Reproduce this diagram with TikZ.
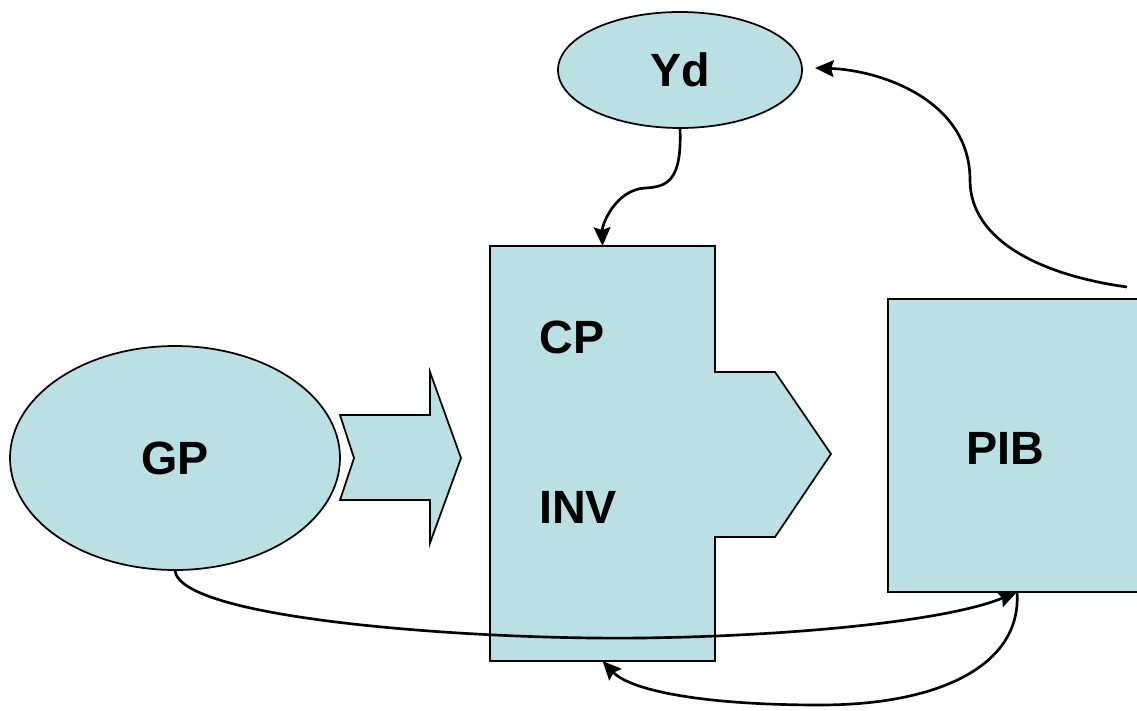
\documentclass[tikz,border=0pt]{standalone}
\usepackage{fontspec}
\setmainfont{Liberation Sans}
\usetikzlibrary{shapes.geometric,arrows.meta,calc}
\definecolor{shapefill}{RGB}{187,224,227}
\tikzset{
  shapeline/.style={draw=black, line width=1.3pt, fill=shapefill, line join=miter},
  oval/.style={shapeline, ellipse, inner sep=0pt, outer sep=0pt},
  boxnode/.style={shapeline, rectangle, inner sep=0pt, outer sep=0pt},
  lbl/.style={font=\fontsize{35}{42}\selectfont\bfseries, inner sep=0pt},
  link/.style={draw=black, line width=2pt, -{Stealth[length=14pt,width=12.5pt,inset=2pt]}},
}
\begin{document}
\begin{tikzpicture}[x=0.75pt, y=-0.75pt]
\useasboundingbox (0,0) rectangle (1137,710);
\clip (0,0) rectangle (1137,710);

% ovals
\node[oval, minimum width=183pt, minimum height=87pt] (yd) at (680,70) {};
\node[lbl] (ydl) at (680,70) {Yd};
\node[oval, minimum width=247.5pt, minimum height=168pt] (gp) at (175,458) {};
\node[lbl] (gpl) at (175,458) {GP};

% chevron arrow between GP and the central block
\draw[shapeline] (340,415) -- (430,415) -- (430,372) -- (461,458) -- (430,543)
  -- (430,500) -- (340,500) -- (354,458) -- cycle;

% central block with pointed extension
\node[rectangle, inner sep=0pt, outer sep=0pt, minimum width=168.75pt,
      minimum height=311.25pt] (blk) at (602.5,453.5) {};
\draw[shapeline] (blk.north west) -- (blk.north east) -- (715,372) -- (775,372)
  -- (831,454) -- (775,537) -- (715,537) -- (blk.south east) -- (blk.south west) -- cycle;
\node[lbl] (cp) at (572,337) {CP};
\node[lbl] (inv) at (578,507) {INV};

% PIB box (runs past the right edge)
\node[boxnode, minimum width=193.5pt, minimum height=219.75pt] (pib) at (1017,445.5) {};
\node[lbl] (pibl) at (1005,448) {PIB};

% connectors
\coordinate (feed) at (1127,287);
\draw[link] (yd.south) .. controls (682,180) and (668,187) .. (645,188)
  .. controls (615,190) and (602,225) .. (blk.north);
\draw[link] (feed) .. controls (1040,275) and (970,240) .. (970,180)
  .. controls (970,100) and (880,70) .. ($(yd.east)+(13,-2)$);
\draw[link] (gp.south) .. controls (178,620) and (480,640) .. (640,638)
  .. controls (800,636) and (950,620) .. (pib.south);
\draw[link] (pib.south) .. controls (1022,665) and (940,705) .. (820,705)
  .. controls (700,705) and (630,690) .. (blk.south);
\end{tikzpicture}
\end{document}
